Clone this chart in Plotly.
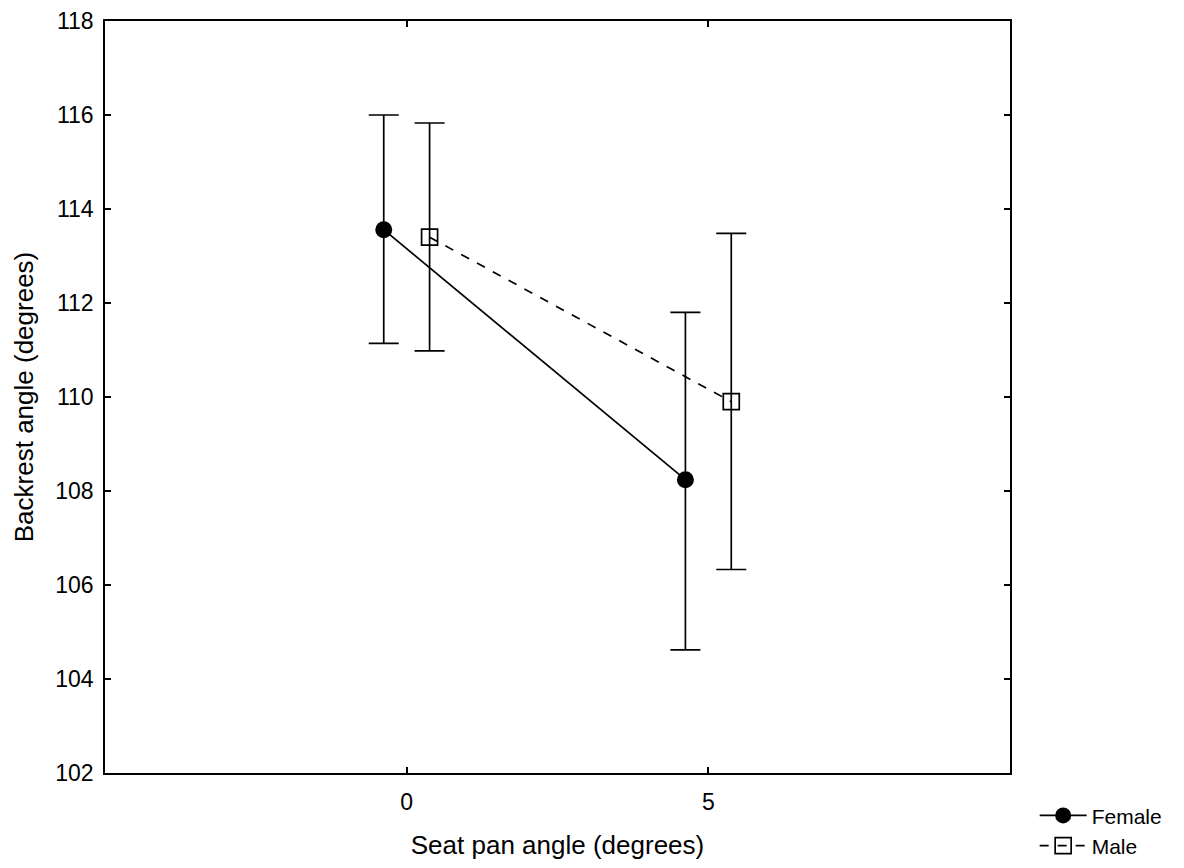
import plotly.graph_objects as go

seat_pan = [0, 5]
female_mean = [113.56, 108.24]
female_upper = [116.0, 111.8]
female_lower = [111.14, 104.62]
male_mean = [113.40, 109.90]
male_upper = [115.83, 113.48]
male_lower = [110.98, 106.33]

DODGE = 0.38
FONT = "Liberation Sans, Arial, sans-serif"

def errs(mean, up, lo):
    return ([u - m for m, u in zip(mean, up)], [m - l for m, l in zip(mean, lo)])

fe_plus, fe_minus = errs(female_mean, female_upper, female_lower)
ma_plus, ma_minus = errs(male_mean, male_upper, male_lower)

fig = go.Figure()
fig.add_trace(go.Scatter(
    x=[v - DODGE for v in seat_pan], y=female_mean, name="Female",
    mode="lines+markers",
    line=dict(color="black", width=1.7),
    marker=dict(symbol="circle", size=17, color="black"),
    error_y=dict(type="data", array=fe_plus, arrayminus=fe_minus, symmetric=False,
                 color="black", thickness=1.7, width=15),
))
fig.add_trace(go.Scatter(
    x=[v + DODGE for v in seat_pan], y=male_mean, name="Male",
    mode="lines+markers",
    line=dict(color="black", width=1.7, dash="dash"),
    marker=dict(symbol="square-open", size=16, color="black", line=dict(width=1.7)),
    error_y=dict(type="data", array=ma_plus, arrayminus=ma_minus, symmetric=False,
                 color="black", thickness=1.7, width=15),
))

axis_common = dict(showline=True, linecolor="black", linewidth=1.7, mirror="ticks",
                   ticks="inside", ticklen=6, tickwidth=1.7, tickcolor="black",
                   showgrid=False, zeroline=False, automargin=False,
                   tickfont=dict(family=FONT, size=23, color="black"))

fig.update_xaxes(range=[-5, 10], tickvals=[0, 5], ticktext=["0", "5"],
                 ticklabelstandoff=8,
                 title=dict(text="Seat pan angle (degrees)", font=dict(family=FONT, size=26, color="black"), standoff=23),
                 **axis_common)
fig.update_yaxes(range=[102, 118], tickvals=list(range(102, 119, 2)),
                 ticklabelstandoff=5,
                 title=dict(text="Backrest angle (degrees)", font=dict(family=FONT, size=26, color="black"), standoff=14),
                 **axis_common)

fig.update_layout(
    width=1168, height=852,
    margin=dict(l=97, r=166, t=13, b=87),
    plot_bgcolor="white", paper_bgcolor="white",
    showlegend=True,
    legend=dict(xref="container", yref="container", x=0.879, y=0.076,
                xanchor="left", yanchor="top",
                font=dict(family=FONT, size=21, color="black"),
                tracegroupgap=0, itemwidth=47, bgcolor="rgba(0,0,0,0)"),
)

fig.write_html("out.html")
